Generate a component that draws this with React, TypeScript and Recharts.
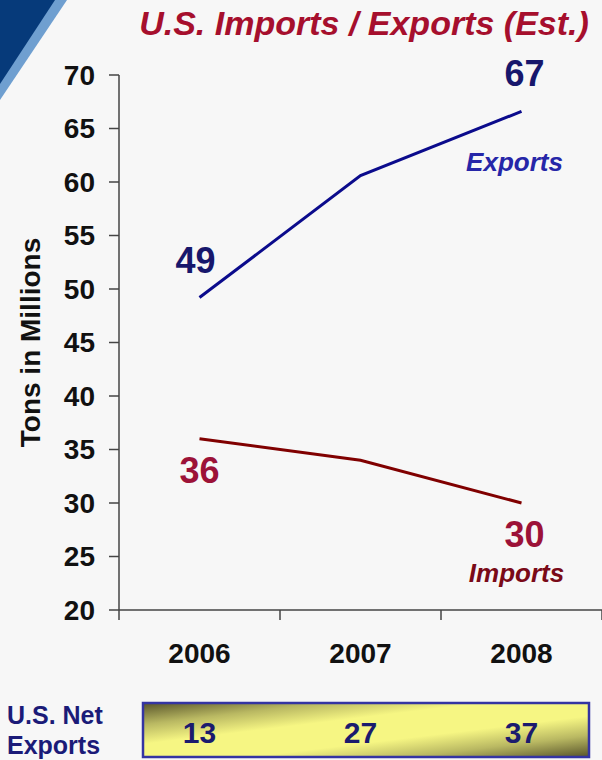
import React from 'react';
import { LineChart, Line, XAxis, YAxis, LabelList } from 'recharts';

const years = ['2006', '2007', '2008'];
const exportsVals = [49.2, 60.6, 66.6];
const importsVals = [36, 34, 30];
const exportLabels = ['49', '', '67'];
const importLabels = ['36', '', '30'];
const netExports = [13, 27, 37];
const yTicks = [20, 25, 30, 35, 40, 45, 50, 55, 60, 65, 70];

const data = years.map((y, i) => ({ year: y, pos: i + 0.5, exports: exportsVals[i], imports: importsVals[i] }));
const xTicks = [0, ...years.flatMap((_, i) => [i + 0.5, i + 1])];

const FONT = '"Liberation Sans", Arial, Helvetica, sans-serif';

const XTick = (props: any) => {
  const { x, y, payload } = props;
  const v = payload.value as number;
  if (Math.abs(v - Math.round(v)) < 1e-6) {
    return <line x1={x} x2={x} y1={y} y2={y + 10} stroke="#454545" strokeWidth={1.5} />;
  }
  const i = Math.floor(v);
  return (
    <g>
      <text x={x} y={y + 53} textAnchor="middle" fill="#111" fontSize={28} fontWeight="bold" fontFamily={FONT}>
        {years[i]}
      </text>
      <text x={x} y={y + 133} textAnchor="middle" fill="#1b1b6e" fontSize={30} fontWeight="bold" fontFamily={FONT}>
        {netExports[i]}
      </text>
    </g>
  );
};

const makeLabel = (
  labels: string[],
  color: string,
  dy: number,
  dx0: number,
  name: string,
  nameColor: string,
  nameDx: number,
  nameDy: number
) => (props: any) => {
  const { x, y, index } = props;
  const t = labels[index];
  if (!t) return null;
  const last = index === labels.length - 1;
  return (
    <g>
      <text
        x={x + (last ? 3 : dx0)}
        y={y + dy}
        textAnchor="middle"
        fill={color}
        fontSize={36}
        fontWeight="bold"
        fontFamily={FONT}
      >
        {t}
      </text>
      {last && (
        <text
          x={x + nameDx}
          y={y + nameDy}
          textAnchor="middle"
          fill={nameColor}
          fontSize={26}
          fontWeight="bold"
          fontStyle="italic"
          fontFamily={FONT}
        >
          {name}
        </text>
      )}
    </g>
  );
};

const YLabel = (props: any) => {
  const vb = props.viewBox || { y: 75, height: 535 };
  const cy = vb.y + vb.height / 2;
  return (
    <text
      x={40}
      y={cy}
      transform={`rotate(-90, 40, ${cy})`}
      textAnchor="middle"
      fill="#111"
      fontSize={28}
      fontWeight="bold"
      fontFamily={FONT}
    >
      Tons in Millions
    </text>
  );
};

export default function App() {
  return (
    <div style={{ position: 'absolute', left: 0, top: 0, width: 602, height: 760, background: '#f7f7f7', overflow: 'hidden' }}>
      <svg width={602} height={760} style={{ position: 'absolute', left: 0, top: 0 }}>
        <defs>
          <linearGradient id="netGrad" x1="0" y1="0" x2="1" y2="1">
            <stop offset="0%" stopColor="#57532a" />
            <stop offset="20%" stopColor="#b9b862" />
            <stop offset="38%" stopColor="#f6f683" />
            <stop offset="62%" stopColor="#f6f683" />
            <stop offset="80%" stopColor="#b9b862" />
            <stop offset="100%" stopColor="#57532a" />
          </linearGradient>
        </defs>
        <polygon points="0,0 67,0 0,100" fill="#6f9fd0" />
        <polygon points="0,0 55,0 0,84" fill="#063a7a" />
        <text x={364} y={35} textAnchor="middle" fill="#a60f2d" fontSize={34} fontWeight="bold" fontStyle="italic" fontFamily={FONT}>
          U.S. Imports / Exports (Est.)
        </text>
        <text x={7} y={724} fill="#1b1b78" fontSize={25} fontWeight="bold" fontFamily={FONT}>
          U.S. Net
        </text>
        <text x={7} y={754} fill="#1b1b78" fontSize={25} fontWeight="bold" fontFamily={FONT}>
          Exports
        </text>
        <rect x={143} y={703} width={446} height={54} fill="url(#netGrad)" stroke="#3434a2" strokeWidth={2.5} />
      </svg>
      <div style={{ position: 'absolute', left: 0, top: 0 }}>
        <LineChart width={602} height={760} data={data} margin={{ top: 75, right: 0, bottom: 0, left: 0 }}>
          <XAxis
            dataKey="pos"
            type="number"
            domain={[0, 3]}
            ticks={xTicks}
            interval={0}
            height={150}
            tickSize={0}
            tickMargin={0}
            tickLine={false}
            axisLine={{ stroke: '#454545', strokeWidth: 1.5 }}
            tick={<XTick />}
          />
          <YAxis
            type="number"
            domain={[20, 70]}
            ticks={yTicks}
            interval={0}
            width={119}
            tickSize={10}
            tickMargin={14}
            axisLine={{ stroke: '#454545', strokeWidth: 1.5 }}
            tickLine={{ stroke: '#454545', strokeWidth: 1.5 }}
            tick={{ fill: '#111', fontSize: 28, fontWeight: 'bold', fontFamily: FONT }}
            label={{ content: YLabel }}
          />
          <Line
            dataKey="exports"
            stroke="#0b0b8c"
            strokeWidth={3}
            dot={false}
            isAnimationActive={false}
          >
            <LabelList dataKey="exports" content={makeLabel(exportLabels, '#17176c', -25, -4, 'Exports', '#2626a8', -7, 60)} />
          </Line>
          <Line
            dataKey="imports"
            stroke="#800000"
            strokeWidth={3}
            dot={false}
            isAnimationActive={false}
          >
            <LabelList dataKey="imports" content={makeLabel(importLabels, '#9c1238', 44, 0, 'Imports', '#7a0a18', -5, 79)} />
          </Line>
        </LineChart>
      </div>
    </div>
  );
}
